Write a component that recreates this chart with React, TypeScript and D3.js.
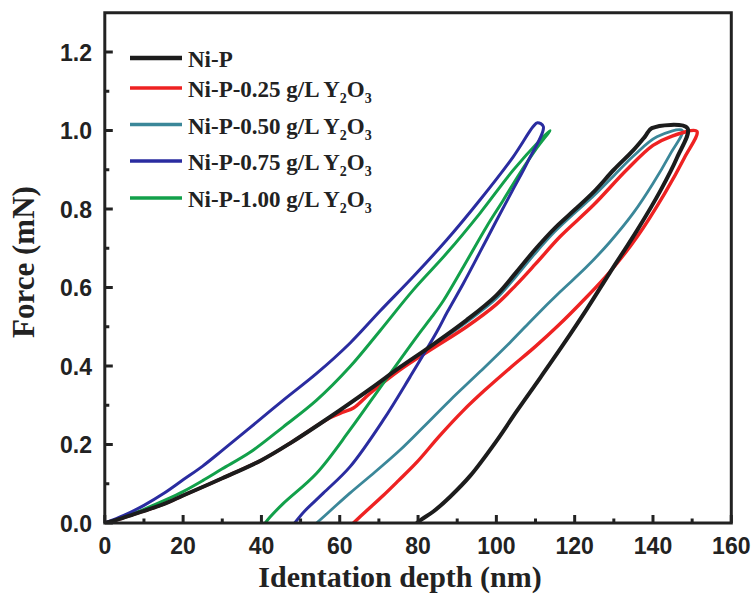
import React from "react";
import * as d3 from "d3";

type Pt = [number, number];

// [depth (nm), force (mN)], loading then unloading
const niP: Pt[] = [
  [0, 0], [3, 0.008], [7.3, 0.022], [15, 0.048], [20, 0.07], [30, 0.114], [40, 0.16],
  [47.3, 0.203], [57.5, 0.27], [67.7, 0.341], [75.4, 0.397], [83, 0.449], [92.4, 0.517],
  [100, 0.58], [105, 0.638], [110, 0.698], [115, 0.752], [120, 0.798], [125, 0.845],
  [130, 0.9], [135, 0.95], [138, 0.985], [139.7, 1.006], [148.8, 1.006],
  [146.1, 0.93], [141.8, 0.845], [135.9, 0.745], [129, 0.638], [123.1, 0.545], [117.1, 0.455],
  [111.2, 0.37], [105.2, 0.285], [100.1, 0.21], [93.3, 0.12], [88.2, 0.067], [84, 0.03],
  [81, 0.01], [79.7, 0],
];

const np025: Pt[] = [
  [0, 0], [3, 0.008], [7.3, 0.022], [15, 0.048], [20, 0.07], [30, 0.114], [40, 0.16],
  [47.3, 0.203], [57.5, 0.268], [61, 0.283], [63.5, 0.293], [67.7, 0.33],
  [75.4, 0.39], [83, 0.44], [92.4, 0.5], [100, 0.557], [105, 0.606], [110, 0.66],
  [116.3, 0.73], [124.8, 0.81], [133.3, 0.9], [140, 0.962], [144.4, 0.984], [151.2, 0.998],
  [148, 0.93], [143, 0.84], [136, 0.73], [129, 0.64], [122, 0.565], [116, 0.505],
  [110, 0.45], [103.5, 0.395], [97, 0.338], [91.6, 0.287], [85.5, 0.222], [79.7, 0.155],
  [75, 0.108], [71.1, 0.07], [66.5, 0.028], [63.5, 0],
];

const np050: Pt[] = [
  [0, 0], [3, 0.008], [7.3, 0.022], [15, 0.048], [20, 0.07], [30, 0.114], [40, 0.16],
  [47.3, 0.203], [57.5, 0.27], [67.7, 0.339], [75.4, 0.394], [83, 0.446], [92.4, 0.512],
  [100, 0.572], [105, 0.628], [110, 0.688], [115, 0.743], [120, 0.79], [125, 0.835],
  [130, 0.885], [135, 0.935], [141, 0.984], [147.5, 1.0],
  [144.4, 0.94], [140, 0.865], [135, 0.79], [129, 0.716], [123, 0.652], [116.3, 0.589],
  [110, 0.527], [103.5, 0.46], [96, 0.387], [88.2, 0.313], [81.5, 0.246], [75.4, 0.186],
  [69, 0.13], [62.6, 0.076], [58, 0.035], [54.1, 0],
];

const np075: Pt[] = [
  [0, 0], [5, 0.02], [10, 0.045], [15, 0.075], [20, 0.11], [25, 0.145], [30, 0.185],
  [37.1, 0.243], [45.6, 0.313], [54.1, 0.381], [62.6, 0.458], [70.3, 0.54], [78.8, 0.628],
  [87.3, 0.721], [95.8, 0.823], [104.3, 0.933], [109.4, 1.01], [110.5, 1.02], [112, 1.01],
  [108, 0.92], [104, 0.845], [100, 0.77], [95.8, 0.69], [91.6, 0.611], [87.5, 0.538],
  [84.8, 0.487], [78, 0.373], [71.1, 0.262], [62.6, 0.143], [55.8, 0.076], [51, 0.03],
  [48.5, 0],
];

const np100: Pt[] = [
  [0, 0], [5, 0.015], [10, 0.035], [15.8, 0.06], [20, 0.08], [25, 0.108], [30, 0.138],
  [37.1, 0.18], [45.6, 0.245], [54.1, 0.313], [62.6, 0.398], [70.3, 0.49], [78.8, 0.594],
  [87.3, 0.687], [95.8, 0.789], [104.3, 0.899], [111.2, 0.976], [113.7, 1.0],
  [110.3, 0.955], [106, 0.891], [101.8, 0.823], [97.5, 0.755], [91.6, 0.653], [86.5, 0.567],
  [83.5, 0.525], [79.7, 0.475], [71.1, 0.356], [62.6, 0.237], [54.1, 0.127], [45.6, 0.05],
  [42.2, 0.015], [41, 0],
];

const seriesNames = [
  "Ni-P",
  "Ni-P-0.25 g/L Y",
  "Ni-P-0.50 g/L Y",
  "Ni-P-0.75 g/L Y",
  "Ni-P-1.00 g/L Y",
];
const seriesData = [niP, np025, np050, np075, np100];
const seriesColors = ["#1c1c1c", "#ee2222", "#3b8799", "#2a2ca0", "#12a04a"];
const seriesWidths = [4, 3.4, 2.8, 3, 3];
const drawOrder = [2, 1, 4, 3, 0];

const xTicks = [0, 20, 40, 60, 80, 100, 120, 140, 160];
const yTicks = [0.0, 0.2, 0.4, 0.6, 0.8, 1.0, 1.2];
const xMinor = [10, 30, 50, 70, 90, 110, 130, 150];
const yMinor = [0.1, 0.3, 0.5, 0.7, 0.9, 1.1];

export default function App() {
  const W = 752, H = 597;
  const left = 104.8, right = 731.3, top = 12.75, bottom = 523;
  const x = d3.scaleLinear().domain([0, 160]).range([left, right]);
  const y = d3.scaleLinear().domain([0, 1.3]).range([bottom, top]);
  const line = d3
    .line<Pt>()
    .x((d) => x(d[0]))
    .y((d) => y(d[1]))
    .curve(d3.curveCatmullRom.alpha(0.5));

  const axisColor = "#222";
  const tickFont = "'Liberation Sans', Arial, sans-serif";
  const serif = "'Liberation Serif', 'Times New Roman', serif";
  const legendY = [58, 88, 124.5, 161, 198];

  return (
    <svg
      width={W}
      height={H}
      style={{ position: "absolute", left: 0, top: 0, background: "#fff" }}
    >
      <rect x={0} y={0} width={W} height={H} fill="#fff" />
      <defs>
        <clipPath id="plot">
          <rect x={left} y={top} width={right - left} height={bottom - top} />
        </clipPath>
      </defs>

      <g clipPath="url(#plot)">
        {drawOrder.map((i) => (
          <path
            key={i}
            d={line(seriesData[i]) || ""}
            fill="none"
            stroke={seriesColors[i]}
            strokeWidth={seriesWidths[i]}
            strokeLinejoin="round"
            strokeLinecap="round"
          />
        ))}
      </g>

      {/* frame */}
      <rect
        x={left}
        y={top}
        width={right - left}
        height={bottom - top}
        fill="none"
        stroke={axisColor}
        strokeWidth={3}
      />

      {/* x ticks */}
      {xTicks.map((t) => (
        <g key={"xt" + t}>
          <line x1={x(t)} x2={x(t)} y1={bottom} y2={bottom - 8} stroke={axisColor} strokeWidth={3} />
          <text
            x={x(t)}
            y={554}
            textAnchor="middle"
            fontFamily={tickFont}
            fontWeight="bold"
            fontSize={23}
            fill="#222"
          >
            {t}
          </text>
        </g>
      ))}
      {xMinor.map((t) => (
        <line key={"xm" + t} x1={x(t)} x2={x(t)} y1={bottom} y2={bottom - 4.5} stroke={axisColor} strokeWidth={3} />
      ))}

      {/* y ticks */}
      {yTicks.map((t) => (
        <g key={"yt" + t}>
          <line x1={left} x2={left + 8} y1={y(t)} y2={y(t)} stroke={axisColor} strokeWidth={3} />
          <text
            x={92}
            y={y(t) + 8.5}
            textAnchor="end"
            fontFamily={tickFont}
            fontWeight="bold"
            fontSize={23}
            fill="#222"
          >
            {t.toFixed(1)}
          </text>
        </g>
      ))}
      {yMinor.map((t) => (
        <line key={"ym" + t} x1={left} x2={left + 4.5} y1={y(t)} y2={y(t)} stroke={axisColor} strokeWidth={3} />
      ))}

      {/* axis titles */}
      <text
        x={400}
        y={587}
        textAnchor="middle"
        fontFamily={serif}
        fontWeight="bold"
        fontSize={30}
        fill="#222"
      >
        Identation depth (nm)
      </text>
      <text
        transform={`translate(34, 262) rotate(-90)`}
        textAnchor="middle"
        fontFamily={serif}
        fontWeight="bold"
        fontSize={31}
        fill="#222"
      >
        Force (mN)
      </text>

      {/* legend */}
      {seriesNames.map((name, i) => (
        <g key={"lg" + i}>
          <line
            x1={130}
            x2={182}
            y1={legendY[i]}
            y2={legendY[i]}
            stroke={seriesColors[i]}
            strokeWidth={i === 0 ? 4.5 : 3.5}
          />
          <text
            x={188}
            y={legendY[i] + 9}
            fontFamily={serif}
            fontWeight="bold"
            fontSize={23}
            fill="#222"
          >
            {name}
            {i > 0 && (
              <>
                <tspan fontSize={14} dy={6}>2</tspan>
                <tspan dy={-6}>O</tspan>
                <tspan fontSize={14} dy={6}>3</tspan>
              </>
            )}
          </text>
        </g>
      ))}
    </svg>
  );
}
